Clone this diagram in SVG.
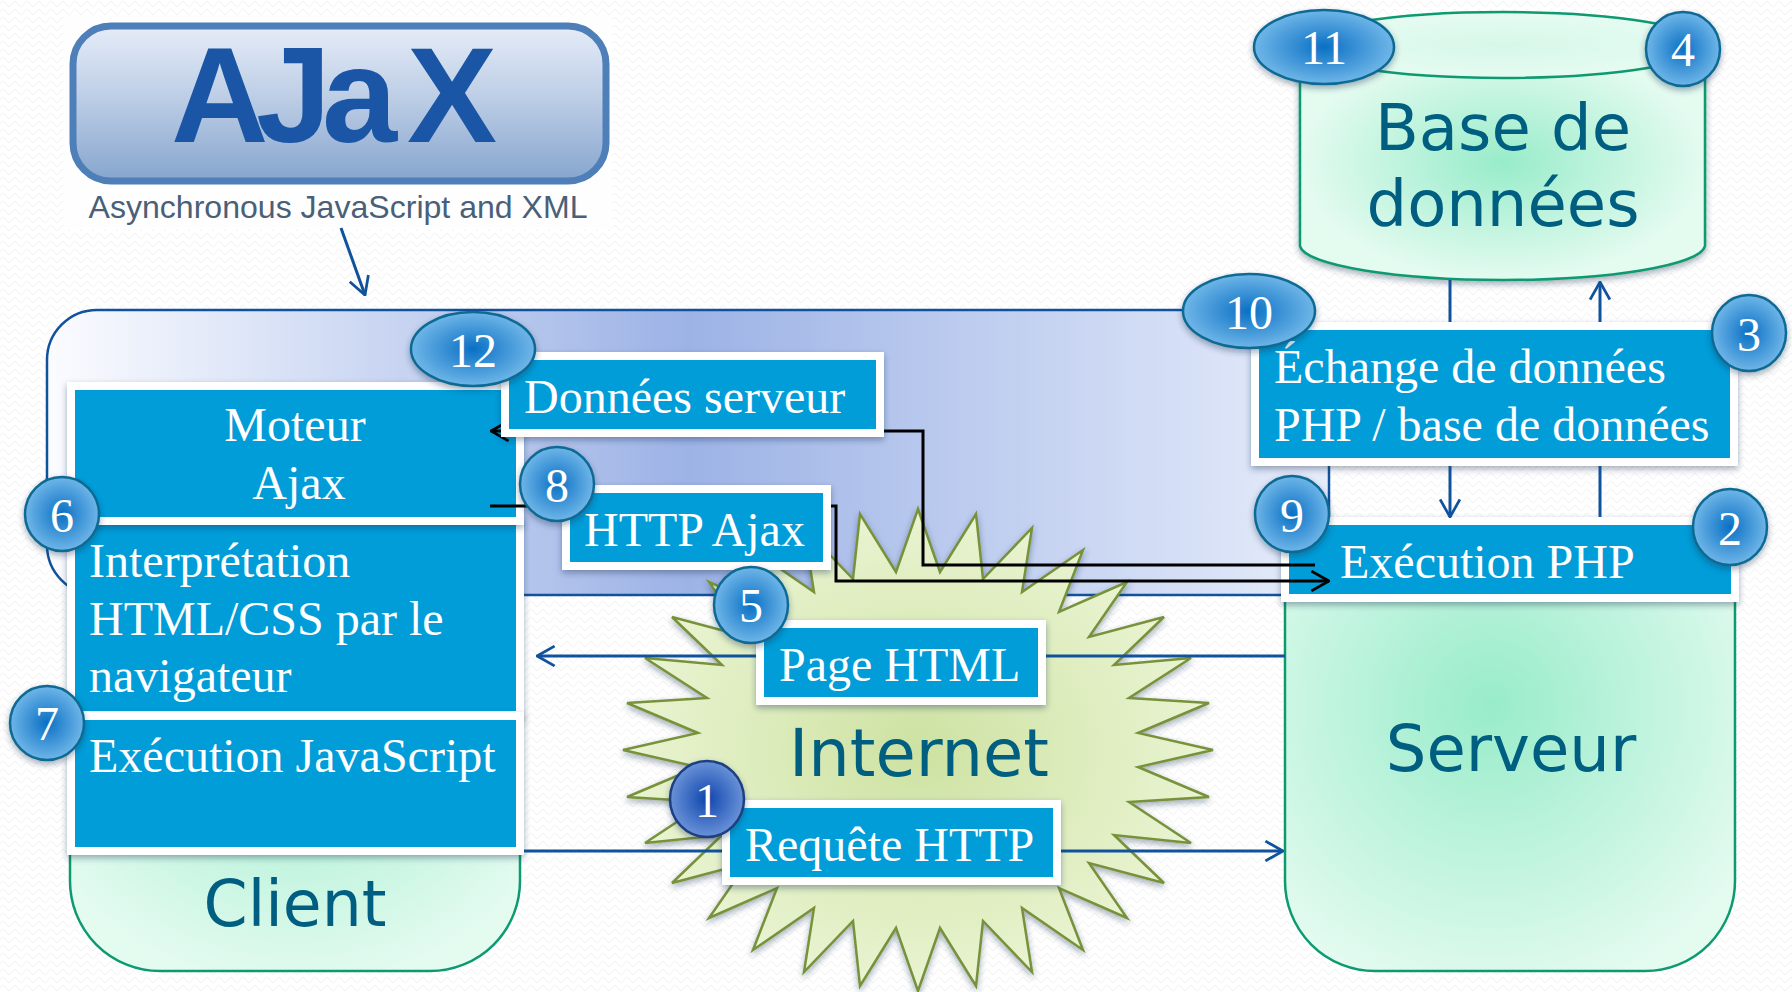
<svg xmlns="http://www.w3.org/2000/svg" width="1792" height="992" viewBox="0 0 1792 992">
<style>
.lbl{fill:#009dd9;stroke:#fff;stroke-width:8;filter:url(#sh)}
.t{font-family:"Liberation Serif",serif;font-size:48px;fill:#fff}
.big{font-family:"DejaVu Sans",sans-serif;font-size:64px;fill:#005f80;text-anchor:middle}
.n{font-family:"Liberation Serif",serif;font-size:48px;fill:#fff;text-anchor:middle}
.b{fill:url(#bad);stroke:#0f6a94;stroke-width:2.5;filter:url(#sh)}
.c{fill:none;stroke:#10529c;stroke-width:3}
.k{fill:none;stroke:#000;stroke-width:3}
.green{stroke:#0e9a70;stroke-width:2.5}
</style>
<defs>
<pattern id="wave" width="12" height="8" patternUnits="userSpaceOnUse"><path d="M0 4L3 1L6 4L9 7L12 4" fill="none" stroke="#f1f1f1" stroke-width="1"/></pattern>
<filter id="sh" x="-15%" y="-15%" width="130%" height="135%"><feDropShadow dx="0" dy="3" stdDeviation="3" flood-color="#1f3050" flood-opacity=".4"/></filter>
<linearGradient id="logo" x1="0" y1="0" x2="0" y2="1"><stop offset="0" stop-color="#e6ecf8"/><stop offset=".5" stop-color="#b9cbe4"/><stop offset="1" stop-color="#86a5ce"/></linearGradient>
<linearGradient id="blue" x1="0" y1="0" x2="1" y2="0"><stop offset="0" stop-color="#fbfcff"/><stop offset=".5" stop-color="#9db3e6"/><stop offset="1" stop-color="#e6ecfa"/></linearGradient>
<radialGradient id="g"><stop offset="0" stop-color="#98ecca"/><stop offset="1" stop-color="#e4fbf0"/></radialGradient>
<radialGradient id="gs" gradientUnits="userSpaceOnUse" cx="1490" cy="705" r="300"><stop offset="0" stop-color="#98ecca"/><stop offset="1" stop-color="#e4fbf0"/></radialGradient>
<radialGradient id="gc" gradientUnits="userSpaceOnUse" cx="295" cy="690" r="300"><stop offset="0" stop-color="#98ecca"/><stop offset="1" stop-color="#e4fbf0"/></radialGradient>
<radialGradient id="gt"><stop offset="0" stop-color="#d6f8e8"/><stop offset="1" stop-color="#e6fbf2"/></radialGradient>
<radialGradient id="st"><stop offset="0" stop-color="#cde2a2"/><stop offset="1" stop-color="#eaf4d2"/></radialGradient>
<radialGradient id="bad"><stop offset="0" stop-color="#0a70c4"/><stop offset="1" stop-color="#6fb6e8"/></radialGradient>
<radialGradient id="bad1"><stop offset="0" stop-color="#0e45ad"/><stop offset="1" stop-color="#6a92d8"/></radialGradient>
<marker id="ab" viewBox="0 0 20 20" refX="19" refY="10" markerWidth="22" markerHeight="22" markerUnits="userSpaceOnUse" orient="auto"><path d="M3 1L19 10L3 19" fill="none" stroke="#10529c" stroke-width="2.5"/></marker>
<marker id="ak" viewBox="0 0 20 20" refX="19" refY="10" markerWidth="22" markerHeight="22" markerUnits="userSpaceOnUse" orient="auto"><path d="M3 1L19 10L3 19" fill="none" stroke="#000" stroke-width="2.5"/></marker>
</defs>
<rect width="1792" height="992" fill="#fff"/>
<rect width="1792" height="992" fill="url(#wave)"/>
<g id="logo-ajax">
<rect x="63" y="15" width="549" height="215" fill="#fefefe"/>
<rect x="73" y="26" width="533" height="155" rx="38" fill="url(#logo)" stroke="#4f7fb8" stroke-width="7"/>
<text x="171 256 322 407" y="142" font-family="Liberation Sans,sans-serif" font-weight="700" font-size="135" fill="#1a56a5">AJaX</text>
<text x="338" y="218" font-family="Liberation Sans,sans-serif" font-size="32" fill="#4a5f78" text-anchor="middle" textLength="499" lengthAdjust="spacingAndGlyphs">Asynchronous JavaScript and XML</text>
</g>
<g id="navigateur-fond"><rect x="47" y="310" width="1282" height="285" rx="50" fill="url(#blue)" stroke="#10529c" stroke-width="2.5"/></g>
<g id="client"><path d="M70 560H520V880A90 90 0 0 1 430 971H160A90 90 0 0 1 70 880Z" fill="url(#gc)" class="green"/><text x="295" y="926" class="big" textLength="183" lengthAdjust="spacingAndGlyphs">Client</text></g>
<g id="serveur"><path d="M1285 560H1735V880A90 90 0 0 1 1645 971H1375A90 90 0 0 1 1285 880Z" fill="url(#gs)" class="green"/><text x="1511" y="771" class="big">Serveur</text></g>
<g id="base">
<path d="M1300 45V246C1305 266 1400 280 1503 280S1700 266 1705 246V45Z" fill="url(#g)" class="green" filter="url(#sh)"/>
<ellipse cx="1503" cy="45" rx="202" ry="33" fill="url(#gt)" class="green"/>
<text x="1503" y="150" class="big">Base de</text><text x="1503" y="226" class="big">données</text>
</g>
<g id="internet">
<polygon filter="url(#sh)" fill="url(#st)" stroke="#77923b" stroke-width="2.5" points="918,509 940,572 976,514 983,579 1032,528 1022,592 1083,550 1059,612 1127,582 1089,637 1164,617 1114,665 1191,658 1129,698 1209,703 1138,733 1213,750 1138,767 1209,797 1129,802 1191,843 1114,835 1164,883 1089,863 1127,918 1059,888 1083,950 1022,908 1032,972 983,921 976,986 940,928 918,991 896,928 860,986 853,921 804,972 814,908 753,950 777,888 709,918 747,863 672,883 722,835 645,843 707,802 627,797 698,767 623,750 698,733 627,703 707,698 645,658 722,665 672,617 747,637 709,582 777,612 753,550 814,592 804,528 853,579 860,514 896,572"/>
<text x="919" y="776" class="big" style="font-size:66px" textLength="260" lengthAdjust="spacingAndGlyphs">Internet</text>
</g>
<g id="interpretation"><rect class="lbl" x="71" y="521" width="449" height="194"/><text class="t" x="89" y="577">Interprétation</text><text class="t" x="89" y="635">HTML/CSS par le</text><text class="t" x="89" y="692">navigateur</text></g>
<g id="execution-js"><rect class="lbl" x="71" y="716" width="449" height="135"/><text class="t" x="89" y="772">Exécution JavaScript</text></g>
<g id="moteur"><rect class="lbl" x="71" y="386" width="449" height="135"/><text class="t" x="295" y="441" text-anchor="middle">Moteur</text><text class="t" x="299" y="499" text-anchor="middle">Ajax</text></g>
<g id="echange"><rect class="lbl" x="1255" y="326" width="479" height="136"/><text class="t" x="1274" y="383">Échange de données</text><text class="t" x="1274" y="441">PHP / base de données</text></g>
<g id="execution-php"><rect class="lbl" x="1285" y="521" width="450" height="77"/><text class="t" x="1340" y="578">Exécution PHP</text></g>
<g id="connectors">
<path class="c" d="M341 228L365 295" marker-end="url(#ab)"/>
<path class="c" d="M524 851H1283" marker-end="url(#ab)"/>
<path class="c" d="M1285 656H537" marker-end="url(#ab)"/>
<path class="c" d="M1450 280V322"/>
<path class="c" d="M1450 466V517" marker-end="url(#ab)"/>
<path class="c" d="M1600 517V466"/>
<path class="c" d="M1600 322V282" marker-end="url(#ab)"/>
<path class="k" d="M490 506H836V581H1329" marker-end="url(#ak)"/>
<path class="k" d="M1315 565H923V431H491" marker-end="url(#ak)"/>
</g>
<g id="donnees"><rect class="lbl" x="505" y="356" width="375" height="77"/><text class="t" x="524" y="413">Données serveur</text></g>
<g id="http-ajax"><rect class="lbl" x="566" y="489" width="261" height="77"/><text class="t" x="584" y="546">HTTP Ajax</text></g>
<g id="page-html"><rect class="lbl" x="760" y="624" width="282" height="77"/><text class="t" x="779" y="681">Page HTML</text></g>
<g id="requete"><rect class="lbl" x="726" y="804" width="331" height="77"/><text class="t" x="745" y="861">Requête HTTP</text></g>
<g id="b12"><ellipse class="b" cx="473" cy="349" rx="62" ry="37"/><text class="n" x="473" y="367">12</text></g>
<g id="b8"><ellipse class="b" cx="557" cy="484" rx="37" ry="37"/><text class="n" x="557" y="502">8</text></g>
<g id="b6"><ellipse class="b" cx="62" cy="514" rx="37" ry="37"/><text class="n" x="62" y="532">6</text></g>
<g id="b7"><ellipse class="b" cx="47" cy="723" rx="37" ry="37"/><text class="n" x="47" y="740">7</text></g>
<g id="b5"><ellipse class="b" cx="751" cy="605" rx="37" ry="38"/><text class="n" x="751" y="622">5</text></g>
<g id="b1"><ellipse class="b" style="fill:url(#bad1);stroke:#1e3f80" cx="707" cy="799" rx="37" ry="38"/><text class="n" x="707" y="817">1</text></g>
<g id="b11"><ellipse class="b" cx="1324" cy="47" rx="70" ry="37"/><text class="n" x="1324" y="64">11</text></g>
<g id="b4"><ellipse class="b" cx="1683" cy="49" rx="37" ry="37"/><text class="n" x="1683" y="66">4</text></g>
<g id="b10"><ellipse class="b" cx="1249" cy="311" rx="66" ry="37"/><text class="n" x="1249" y="329">10</text></g>
<g id="b3"><ellipse class="b" cx="1749" cy="333" rx="37" ry="38"/><text class="n" x="1749" y="351">3</text></g>
<g id="b9"><ellipse class="b" cx="1292" cy="514" rx="37" ry="38"/><text class="n" x="1292" y="532">9</text></g>
<g id="b2"><ellipse class="b" cx="1730" cy="527" rx="37" ry="38"/><text class="n" x="1730" y="545">2</text></g>
</svg>
